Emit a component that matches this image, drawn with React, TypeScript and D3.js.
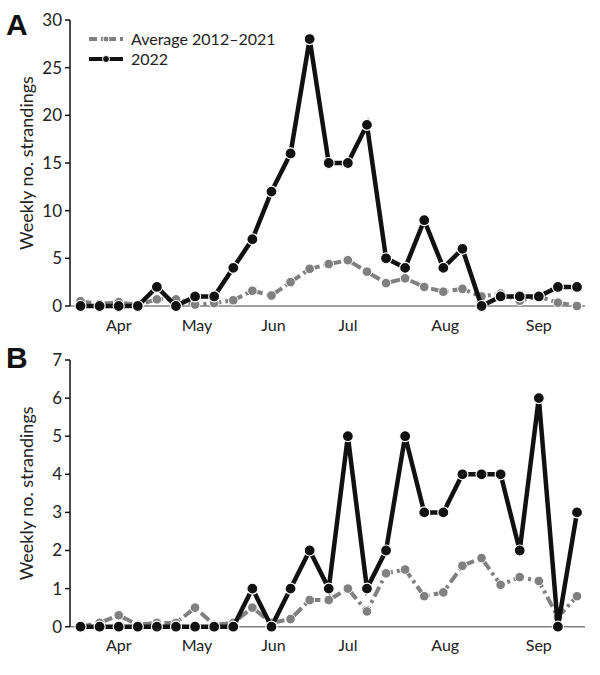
import React from "react";
import * as d3 from "d3";

const weeks = d3.range(27);
const strandA2022 = [0, 0, 0, 0, 2, 0, 1, 1, 4, 7, 12, 16, 28, 15, 15, 19, 5, 4, 9, 4, 6, 0, 1, 1, 1, 2, 2];
const strandAAvg = [0.5, 0.2, 0.4, 0.1, 0.7, 0.7, 0.15, 0.3, 0.6, 1.6, 1.1, 2.5, 3.9, 4.4, 4.8, 3.6, 2.4, 2.9, 2.0, 1.5, 1.8, 1.0, 1.3, 0.55, 1.0, 0.35, 0];
const strandB2022 = [0, 0, 0, 0, 0, 0, 0, 0, 0, 1, 0, 1, 2, 1, 5, 1, 2, 5, 3, 3, 4, 4, 4, 2, 6, 0, 3];
const strandBAvg = [0, 0.1, 0.3, 0.05, 0.1, 0.1, 0.5, 0.05, 0.1, 0.5, 0.1, 0.2, 0.7, 0.7, 1.0, 0.4, 1.4, 1.5, 0.8, 0.9, 1.6, 1.8, 1.1, 1.3, 1.2, 0.25, 0.8];
const monthLabels = ["Apr", "May", "Jun", "Jul", "Aug", "Sep"];
const monthPos = [2, 6.1, 10.1, 14, 19.1, 24];
const ticksA = [0, 5, 10, 15, 20, 25, 30];
const ticksB = [0, 1, 2, 3, 4, 5, 6, 7];
const legendLabels = ["Average 2012\u20132021", "2022"];

const FONT = "Lato, 'Liberation Sans', Arial, sans-serif";
const GRAY = "#808080";
const DASH = "11,4,3,4";

const x = d3.scaleLinear().domain([0, 26]).range([80.5, 577]);

type PanelProps = {
  letter: string;
  y0: number;
  y1: number;
  maxV: number;
  ticks: number[];
  s2022: number[];
  sAvg: number[];
  legend?: boolean;
};

function Panel({ letter, y0, y1, maxV, ticks, s2022, sAvg, legend }: PanelProps) {
  const y = d3.scaleLinear().domain([0, maxV]).range([y0, y1]);
  const line = (vals: number[]) =>
    d3.line<number>().x((_, i) => x(weeks[i])).y((d) => y(d))(vals) || "";
  return (
    <g>
      <text x={6} y={letter === "A" ? 35 : 368} fontFamily="'Liberation Sans', Arial, sans-serif" fontWeight="bold" fontSize={30} fill="#111">
        {letter}
      </text>
      <text
        transform={`translate(33,${(y0 + y1) / 2}) rotate(-90)`}
        textAnchor="middle"
        fontFamily={FONT}
        fontSize={18}
        fill="#222"
      >
        Weekly no. strandings
      </text>
      <line x1={70} x2={585} y1={y0} y2={y0} stroke={GRAY} strokeWidth={1.5} />
      <line x1={70} x2={70} y1={y(maxV)} y2={y0} stroke="#111" strokeWidth={1.5} />
      {ticks.map((t) => (
        <g key={t}>
          <line x1={65} x2={70} y1={y(t)} y2={y(t)} stroke="#111" strokeWidth={1.5} />
          <text x={62} y={y(t)} dy="0.35em" textAnchor="end" fontFamily={FONT} fontSize={17} fill="#222">
            {t}
          </text>
        </g>
      ))}
      {monthLabels.map((m, i) => (
        <text key={m} x={x(monthPos[i])} y={y0 + 19} dy="0.35em" textAnchor="middle" fontFamily={FONT} fontSize={16} fill="#222">
          {m}
        </text>
      ))}
      <path d={line(sAvg)} fill="none" stroke={GRAY} strokeWidth={4} strokeDasharray={DASH} />
      {sAvg.map((v, i) => (
        <circle key={"a" + i} cx={x(weeks[i])} cy={y(v)} r={4.8} fill={GRAY} stroke="#fff" strokeWidth={1} />
      ))}
      <path d={line(s2022)} fill="none" stroke="#111" strokeWidth={4.5} strokeLinejoin="miter" />
      {s2022.map((v, i) => (
        <circle key={"b" + i} cx={x(weeks[i])} cy={y(v)} r={5.5} fill="#111" stroke="#fff" strokeWidth={1.2} />
      ))}
      {legend && (
        <g>
          <line x1={89} x2={123} y1={39} y2={39} stroke={GRAY} strokeWidth={4} strokeDasharray="8,4,3,4" />
          <circle cx={106} cy={39} r={3} fill={GRAY} stroke="#fff" strokeWidth={1} />
          <text x={131} y={39} dy="0.35em" fontFamily={FONT} fontSize={16} fill="#222">
            {legendLabels[0]}
          </text>
          <line x1={89} x2={123} y1={59} y2={59} stroke="#111" strokeWidth={4} />
          <circle cx={106} cy={59} r={3.5} fill="#111" stroke="#fff" strokeWidth={1} />
          <text x={131} y={59} dy="0.35em" fontFamily={FONT} fontSize={16} fill="#222">
            {legendLabels[1]}
          </text>
        </g>
      )}
    </g>
  );
}

export default function App() {
  return (
    <svg
      width={600}
      height={675}
      viewBox="0 0 600 675"
      style={{ position: "absolute", left: 0, top: 0, display: "block", background: "#fff" }}
    >
      <rect width={600} height={675} fill="#fff" />
      <Panel letter="A" y0={306} y1={20} maxV={30} ticks={ticksA} s2022={strandA2022} sAvg={strandAAvg} legend />
      <Panel letter="B" y0={626.7} y1={360} maxV={7} ticks={ticksB} s2022={strandB2022} sAvg={strandBAvg} />
    </svg>
  );
}
